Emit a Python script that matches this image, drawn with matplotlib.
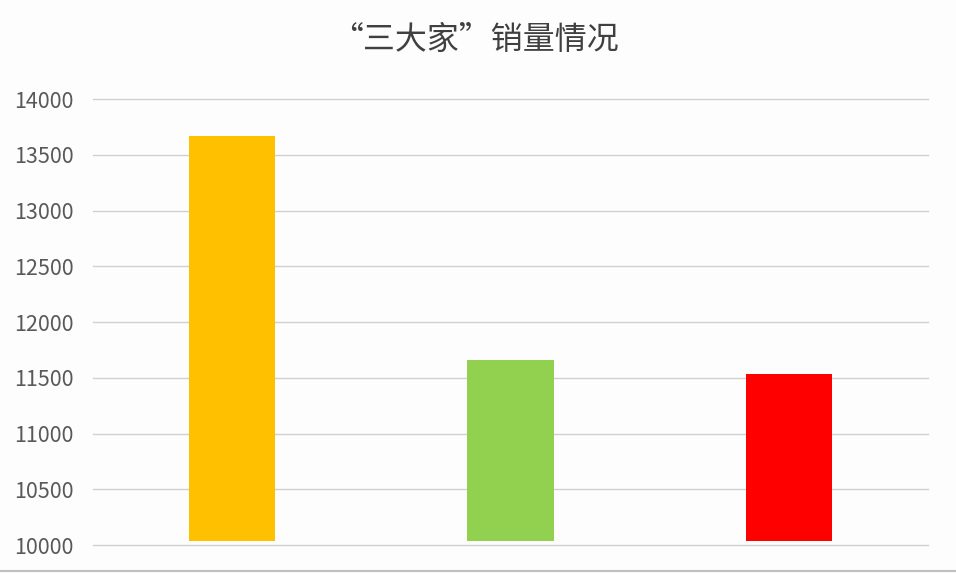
import matplotlib
import matplotlib.pyplot as plt

plt.rcParams['font.family'] = ['Noto Sans CJK SC', 'DejaVu Sans']

# data
brands = ['A', 'B', 'C']
sales = [13668, 11659, 11536]
bar_colors = ['#ffc000', '#92d050', '#ff0000']
yticks = [10000, 10500, 11000, 11500, 12000, 12500, 13000, 13500, 14000]

fig = plt.figure(figsize=(9.56, 5.74), dpi=100, facecolor='#fdfdfe')
ax = fig.add_axes([0.097, 0.0505, 0.874, 0.777])
ax.set_facecolor('#fdfdfe')

x = range(len(brands))
ax.bar(x, [s - 10036 for s in sales], bottom=10036, width=0.31,
       color=bar_colors, zorder=3)

ax.set_xlim(-0.5, len(brands) - 0.5)
ax.set_ylim(10000, 14000)
ax.set_yticks(yticks)
ax.set_yticklabels([str(t) for t in yticks], fontsize=15.5, color='#595959')
ax.set_xticks([])
ax.tick_params(axis='y', length=0, pad=14)
ax.grid(axis='y', color='#d0d0d0', linewidth=1.0, zorder=0)
for gl in ax.get_ygridlines():
    gl.set_clip_on(False)
for s in ax.spines.values():
    s.set_visible(False)

fig.text(0.497, 0.93, '“三大家”销量情况', ha='center', va='center',
         fontsize=23, color='#404040', fontweight='light')

fig.add_artist(plt.Line2D([0, 1], [0.005, 0.005], color='#bfbfbf', linewidth=1.5))

fig.savefig('out.png', dpi=100, facecolor=fig.get_facecolor())
